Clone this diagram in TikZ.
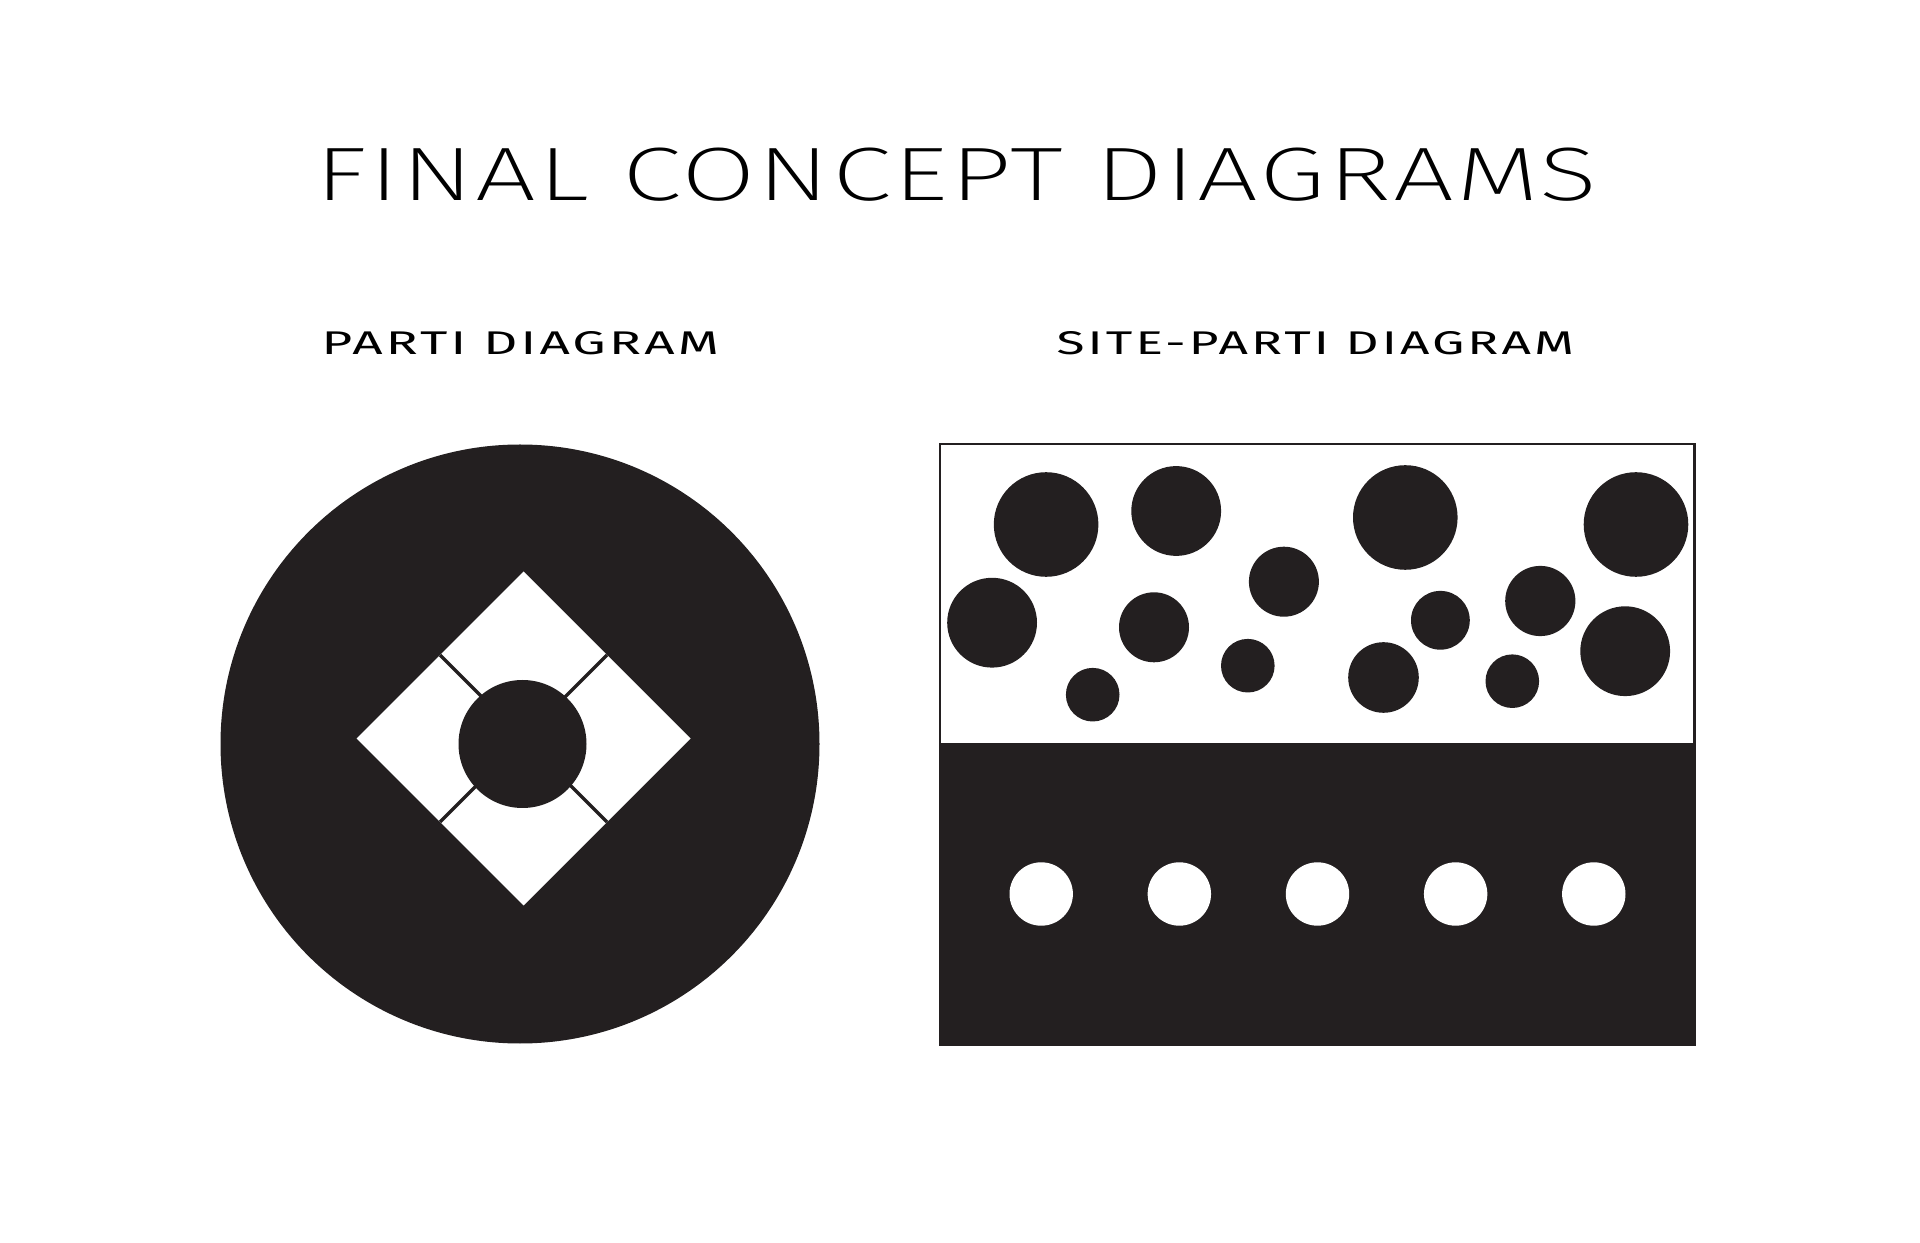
\documentclass[tikz,border=0pt]{standalone}
\usepackage{fontspec}
\usetikzlibrary{calc}
\newfontfamily\titlefont{Fira Sans ExtraLight}[LetterSpace=2]
\newfontfamily\headfont{Fira Sans}[LetterSpace=6]
\definecolor{ink}{RGB}{35,31,32}

\begin{document}
\begin{tikzpicture}[x=0.01cm,y=-0.01cm]
        \useasboundingbox (0,0) rectangle (1920,1243);
        % headings
        \node[anchor=north west,inner sep=0] (title) at (315,147.5)
            {\resizebox{12.81cm}{0.525cm}{\titlefont FINAL CONCEPT DIAGRAMS}};
        \node[anchor=north west,inner sep=0] (parti) at (321,331)
            {\resizebox{3.97cm}{0.23cm}{\headfont PARTI DIAGRAM}};
        \node[anchor=north west,inner sep=0] (site) at (1056,331)
            {\resizebox{5.17cm}{0.23cm}{\headfont SITE-PARTI DIAGRAM}};
        % parti diagram
        \fill[ink] (520,744) circle[radius=299.5];
        \coordinate (dt) at (523.5,571.5);
        \coordinate (dr) at (690.5,738.5);
        \coordinate (db) at (523.5,905.5);
        \coordinate (dl) at (356.5,738.5);
        \fill[white] (dt) -- (dr) -- (db) -- (dl) -- cycle;
        \draw[ink,line width=0.95pt] ($(dl)!.5!(dt)$) -- ($(dr)!.5!(db)$);
        \draw[ink,line width=0.95pt] ($(dt)!.5!(dr)$) -- ($(db)!.5!(dl)$);
        \fill[ink] (522.5,744) circle[radius=64];
        % site-parti diagram
        \fill[ink] (940,743) rectangle (1694.5,1045);
        \draw[ink,line width=0.6pt] (940,444) rectangle (1694.5,1045);
        \foreach \x/\y/\r in {1046.1/524.5/52.3, 1176.2/511/44.9, 1405.3/517.5/52.3,
                1636/524.5/52.3, 992.1/622.7/44.9, 1283.9/581.7/35,
                1154/627.3/35, 1440.4/620.3/29.4, 1540.3/601/35.1,
                1625.2/651.2/44.9, 1092.7/694.7/26.8, 1247.8/665.7/26.8,
                1383.5/677.5/35.3, 1512.3/681.2/26.8}
            \fill[ink] (\x,\y) circle[radius=\r];
        \foreach \i in {0,...,4}
            \fill[white] (1041.2+138.15*\i,894) circle[radius=31.7];
    \end{tikzpicture}
\end{document}
